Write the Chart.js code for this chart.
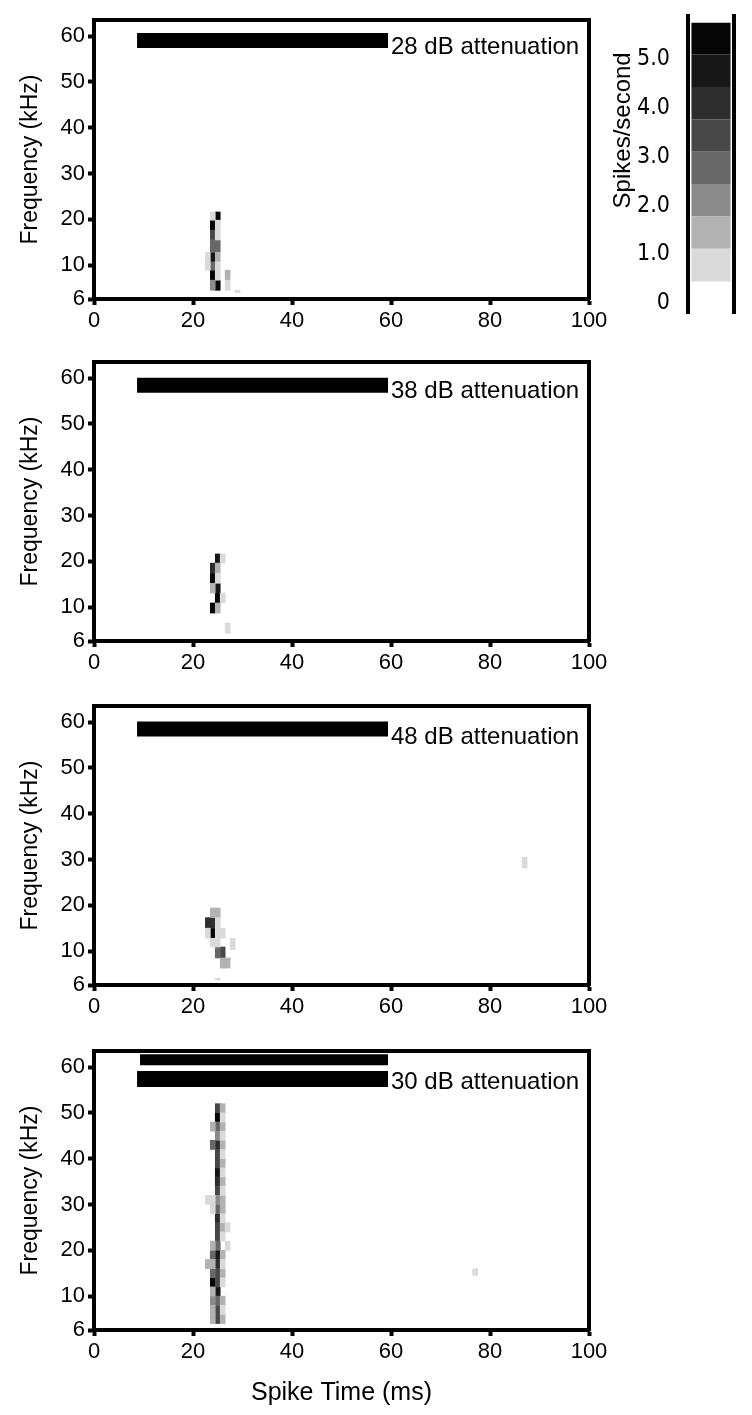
<!DOCTYPE html>
<html><head><meta charset="utf-8">
<script src="https://cdn.jsdelivr.net/npm/chart.js@4.4.1/dist/chart.umd.min.js"></script>
<style>
html,body{margin:0;padding:0;background:#fff;}
body{width:752px;height:1415px;overflow:hidden;position:relative;}
canvas{position:absolute;}
</style></head><body>
<canvas id="c0" width="752" height="340" style="left:0;top:0"></canvas>
<canvas id="c1" width="752" height="340" style="left:0;top:342px"></canvas>
<canvas id="c2" width="752" height="340" style="left:0;top:686px"></canvas>
<canvas id="c3" width="752" height="384" style="left:0;top:1031px"></canvas>
<canvas id="cb" width="192" height="330" style="left:560px;top:0"></canvas>
<script>
// ---------------- data ----------------
const timeTicks = [0, 20, 40, 60, 80, 100];
const freqTickValues = [2.6, 10, 20, 30, 40, 50, 60];
const freqTickLabels = ['6', '10', '20', '30', '40', '50', '60'];
const levelColors = ['#dadada', '#b2b2b2', '#8b8b8b', '#686868', '#484848', '#2d2d2d', '#171717', '#060606'];
const colorbarEdges = [0.449, 1.116, 1.776, 2.443, 3.102, 3.769, 4.429, 5.096, 5.741];
const colorbarTickValues = [0, 1, 2, 3, 4, 5];
const colorbarTickLabels = ['0', '1.0', '2.0', '3.0', '4.0', '5.0'];
const attenuationLabels = ['28 dB attenuation', '38 dB attenuation', '48 dB attenuation', '30 dB attenuation'];

// stimulus bars: [start ms, end ms, frequency kHz]
const stimulus1 = [[8.7, 59.4, 59.0]];
const stimulus2 = [[8.7, 59.4, 58.4]];
const stimulus3 = [[8.7, 59.4, 58.5]];
const stimulus4 = [[9.3, 59.4, 61.6], [8.7, 59.4, 57.4]];

// cells: [time bin ms, freq low kHz, freq high kHz, level 1..8]
const panel1Cells = [
  [24,19.8,21.6,1],[25,19.8,21.6,8],
  [24,17.6,19.8,8],[25,17.6,19.8,1],
  [24,15.5,17.6,5],[25,15.5,17.6,1],
  [24,12.8,15.5,4],[25,12.8,15.5,4],
  [24,10.7,12.8,7],[25,10.7,12.8,2],[23,8.9,12.8,1],
  [24,8.9,10.7,4],[25,8.9,10.7,1],
  [24,6.7,8.9,8],[25,6.7,8.9,1],[27,6.7,8.9,2],
  [24,4.5,6.7,3],[25,4.5,6.7,8],[27,4.5,6.7,1],
  [29,4.0,4.5,1]
];
const panel2Cells = [
  [25,19.6,21.6,7],[26,19.6,21.6,1],
  [24,17.4,19.6,6],[25,17.4,19.6,2],
  [24,15.2,17.4,8],[25,15.2,17.4,1],
  [24,13.1,15.2,2],[25,13.1,15.2,7],
  [25,10.9,13.1,8],[26,10.9,13.1,1],
  [24,8.7,10.9,8],[25,8.7,10.9,2],
  [27,4.3,6.5,1]
];
const panel3Cells = [
  [24,17.3,19.4,2],[25,17.3,19.4,2],
  [23,15.0,17.3,6],[24,15.0,17.3,6],[25,15.0,17.3,1],
  [23,12.8,15.0,1],[24,12.8,15.0,8],[25,12.8,15.0,1],[26,12.8,15.0,1],
  [24,10.9,12.8,1],[25,10.9,12.8,1],[28,10.3,12.8,1],
  [25,8.5,10.9,4],[26,8.5,10.9,5],
  [26,6.3,8.5,2],[27,6.3,8.5,2],
  [25,3.7,4.1,1],
  [87,28.1,30.5,1]
];
// panel 4: 2 kHz frequency bins, levels per time column
const panel4BinEdges = [4,6,8,10,12,14,16,18,20,22,24,26,28,30,32,34,36,38,40,42,44,46,48,50,52];
const panel4Col23 = [0,0,0,0,0,0,2,0,0,0,0,0,0,1,0,0,0,0,0,0,0,0,0,0];
const panel4Col24 = [2,2,3,2,8,4,2,4,2,0,0,0,1,1,0,0,0,0,0,4,0,2,0,0];
const panel4Col25 = [5,5,4,7,5,5,6,7,4,5,5,6,4,3,5,6,7,5,5,6,3,4,8,5];
const panel4Col26 = [2,1,2,0,1,2,1,2,0,1,2,1,2,2,1,2,1,2,1,2,1,2,1,2];
const panel4Col27 = [0,0,0,0,0,0,0,0,1,0,1,0,0,0,0,0,0,0,0,0,0,0,0,0];
const panel4Extra = [[77,14.5,16.0,1]];

// ---------------- build ----------------
const FONT = '"Liberation Sans", Arial, Helvetica, sans-serif';
const NARROW = '"Liberation Sans Narrow", "Arial Narrow", "DejaVu Sans Condensed", "Liberation Sans", sans-serif';
Chart.defaults.font.family = FONT;
Chart.defaults.color = '#000';

function columnsToCells(times, cols, edges, extra) {
  const out = [];
  cols.forEach((col, ci) => col.forEach((lv, bi) => {
    if (lv > 0) out.push([times[ci], edges[bi], edges[bi + 1], lv]);
  }));
  return out.concat(extra);
}
const panel4Cells = columnsToCells([23,24,25,26,27],
  [panel4Col23, panel4Col24, panel4Col25, panel4Col26, panel4Col27], panel4BinEdges, panel4Extra);

const attenuationText = {
  id: 'attenuationText',
  afterDatasetsDraw(chart, args, opts) {
    const {ctx} = chart;
    const x = chart.scales.x, y = chart.scales.y;
    ctx.save();
    ctx.font = opts.size + 'px ' + FONT;
    ctx.fillStyle = '#000';
    ctx.textAlign = 'left';
    ctx.textBaseline = 'middle';
    ctx.fillText(opts.text, x.getPixelForValue(opts.t), y.getPixelForValue(opts.f));
    ctx.restore();
  }
};

// rotated colour-bar title, centred on a value of the colour-bar scale
const sideTitle = {
  id: 'sideTitle',
  afterDraw(chart, args, opts) {
    const {ctx} = chart;
    const y = chart.scales.y;
    ctx.save();
    ctx.translate(opts.x, y.getPixelForValue(opts.value));
    ctx.rotate(-Math.PI / 2);
    ctx.font = opts.size + 'px ' + FONT;
    ctx.fillStyle = '#000';
    ctx.textAlign = 'center';
    ctx.textBaseline = 'middle';
    ctx.fillText(opts.text, 0, 0);
    ctx.restore();
  }
};

const AREA_TOP = 20, AREA_H = 279, AREA_LEFT = 94, AREA_RIGHT = 589, W = 752;

function makePanel(id, cells, stimuli, stimWidths, label, labelF, showXTitle) {
  const canvas = document.getElementById(id);
  const H = canvas.height;
  const datasets = [];
  for (let lv = 1; lv <= 8; lv++) {
    const pts = cells.filter(c => c[3] === lv).map(c => ({x: c[0], y: [c[1], c[2]]}));
    if (!pts.length) continue;
    datasets.push({type: 'bar', data: pts, backgroundColor: levelColors[lv - 1], grouped: false,
      barPercentage: 1, categoryPercentage: 1, borderWidth: 0, order: 2});
  }
  stimuli.forEach((s, i) => datasets.push({type: 'line',
    data: [{x: s[0], y: s[2]}, {x: s[1], y: s[2]}],
    borderColor: '#000', borderWidth: stimWidths[i], borderCapStyle: 'butt',
    pointRadius: 0, fill: false, order: 1}));
  const axisFont = {family: FONT, size: 22};
  new Chart(canvas, {
    type: 'bar',
    data: {datasets},
    plugins: [attenuationText],
    options: {
      responsive: false, animation: false, events: [],
      layout: {padding: {left: 0, right: W - AREA_RIGHT, top: AREA_TOP, bottom: 0}},
      plugins: {legend: {display: false}, tooltip: {enabled: false},
        attenuationText: {text: label, t: 60, f: labelF, size: 24}},
      scales: {
        x: {type: 'linear', position: 'bottom', min: 0, max: 100, offset: false,
          afterBuildTicks: s => { s.ticks = timeTicks.map(v => ({value: v})); },
          grid: {display: true, drawOnChartArea: false, offset: false, color: '#000', tickColor: '#000', tickLength: 6, tickWidth: 4},
          border: {display: true, color: '#000', width: 4},
          ticks: {color: '#000', font: axisFont, padding: 3, maxRotation: 0, autoSkip: false},
          title: {display: showXTitle, text: 'Spike Time (ms)', color: '#000', font: {family: FONT, size: 25}, padding: {top: 0, bottom: 7}},
          afterFit: s => { s.height = H - AREA_TOP - AREA_H; }
        },
        xTop: {type: 'linear', position: 'top', display: true, min: 0, max: 100,
          grid: {display: false}, ticks: {display: false},
          border: {display: true, color: '#000', width: 4},
          afterFit: s => { s.height = 0; }
        },
        y: {type: 'linear', position: 'left', min: 2.6, max: 63.5,
          afterBuildTicks: s => { s.ticks = freqTickValues.map(v => ({value: v})); },
          grid: {display: true, drawOnChartArea: false, color: '#000', tickColor: '#000', tickLength: 6, tickWidth: 4},
          border: {display: true, color: '#000', width: 4},
          ticks: {color: '#000', font: axisFont, padding: 3, autoSkip: false,
            callback: (v, i) => freqTickLabels[i]},
          title: {display: true, text: 'Frequency (kHz)', color: '#000', font: {family: FONT, size: 23}, padding: {top: 17, bottom: 0}},
          afterFit: s => { s.width = AREA_LEFT; }
        },
        yRight: {type: 'linear', position: 'right', display: true,
          grid: {display: false}, ticks: {display: false},
          border: {display: true, color: '#000', width: 4},
          afterFit: s => { s.width = 0; }
        }
      }
    }
  });
}

makePanel('c0', panel1Cells, stimulus1, [15], attenuationLabels[0], 57.6, false);
makePanel('c1', panel2Cells, stimulus2, [15], attenuationLabels[1], 57.0, false);
makePanel('c2', panel3Cells, stimulus3, [15], attenuationLabels[2], 56.7, false);
makePanel('c3', panel4Cells, stimulus4, [11, 16], attenuationLabels[3], 56.7, true);

// colour bar
new Chart(document.getElementById('cb'), {
  type: 'bar',
  data: {labels: [''], datasets: levelColors.map((c, i) => ({
    data: [[colorbarEdges[i], colorbarEdges[i + 1]]], backgroundColor: c, grouped: false,
    barPercentage: 0.85, categoryPercentage: 1, borderWidth: 0}))},
  plugins: [sideTitle],
  options: {
    responsive: false, animation: false, events: [],
    layout: {padding: {left: 0, right: 18, top: 15, bottom: 17}},
    plugins: {legend: {display: false}, tooltip: {enabled: false},
      sideTitle: {text: 'Spikes/second', x: 63, value: 3.54, size: 24}},
    scales: {
      x: {display: false},
      y: {type: 'linear', position: 'left', min: -0.198, max: 5.884,
        afterBuildTicks: s => { s.ticks = colorbarTickValues.map(v => ({value: v})); },
        grid: {display: false, tickLength: 16},
        border: {display: true, color: '#000', width: 4},
        ticks: {color: '#000', font: {family: NARROW, size: 23}, padding: 2, callback: (v, i) => colorbarTickLabels[i]},
        afterFit: s => { s.width = 128; }
      },
      yR: {type: 'linear', position: 'right', display: true,
        grid: {display: false}, ticks: {display: false},
        border: {display: true, color: '#000', width: 4},
        afterFit: s => { s.width = 0; }
      }
    }
  }
});
</script>
</body></html>
